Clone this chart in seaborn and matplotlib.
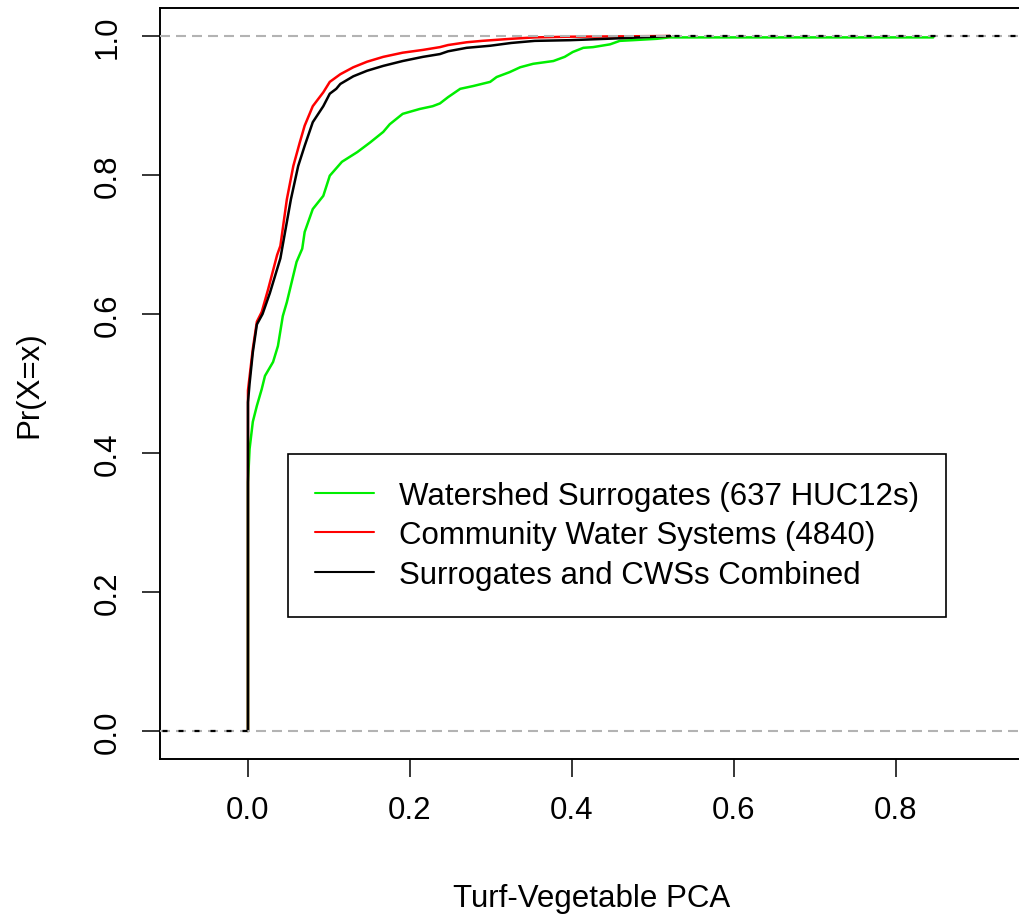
import matplotlib
matplotlib.use("Agg")
import matplotlib.pyplot as plt
import pandas as pd
import seaborn as sns
from matplotlib.lines import Line2D
from matplotlib.patches import Rectangle

# Empirical CDF knots (x value, cumulative proportion) for each group
surrogate_x = [0.000, 0.002, 0.006, 0.011, 0.017, 0.021, 0.031, 0.037, 0.043, 0.048,
               0.054, 0.060, 0.067, 0.070, 0.080, 0.093, 0.101, 0.116, 0.135, 0.151,
               0.167, 0.175, 0.191, 0.212, 0.228, 0.237, 0.247, 0.262, 0.278, 0.299,
               0.307, 0.323, 0.336, 0.352, 0.377, 0.391, 0.401, 0.414, 0.426, 0.447,
               0.459, 0.475, 0.505, 0.520, 0.846]
surrogate_F = [0.358, 0.406, 0.445, 0.468, 0.492, 0.511, 0.531, 0.554, 0.597, 0.617,
               0.646, 0.675, 0.694, 0.718, 0.751, 0.770, 0.799, 0.819, 0.833, 0.847,
               0.862, 0.873, 0.888, 0.895, 0.899, 0.903, 0.912, 0.924, 0.928, 0.934,
               0.941, 0.948, 0.955, 0.960, 0.964, 0.970, 0.977, 0.983, 0.984, 0.988,
               0.993, 0.994, 0.996, 0.998, 0.998]

cws_x = [0.000, 0.002, 0.006, 0.011, 0.017, 0.025, 0.036, 0.040, 0.048, 0.056,
         0.064, 0.070, 0.080, 0.093, 0.101, 0.114, 0.130, 0.147, 0.167, 0.191,
         0.216, 0.237, 0.247, 0.270, 0.289, 0.325, 0.354, 0.398, 0.521]
cws_F = [0.490, 0.510, 0.550, 0.589, 0.603, 0.636, 0.685, 0.698, 0.765, 0.813,
         0.847, 0.871, 0.899, 0.919, 0.934, 0.945, 0.955, 0.963, 0.970, 0.976,
         0.980, 0.984, 0.987, 0.991, 0.993, 0.996, 0.998, 0.999, 1.000]

combined_x = [0.000, 0.002, 0.006, 0.011, 0.018, 0.027, 0.040, 0.053, 0.062, 0.070,
              0.080, 0.093, 0.101, 0.109, 0.114, 0.130, 0.147, 0.167, 0.191, 0.216,
              0.237, 0.247, 0.270, 0.299, 0.325, 0.354, 0.398, 0.443, 0.484, 0.521]
combined_F = [0.473, 0.500, 0.545, 0.585, 0.600, 0.630, 0.680, 0.765, 0.813, 0.842,
              0.876, 0.899, 0.917, 0.924, 0.931, 0.942, 0.950, 0.957, 0.964, 0.970,
              0.974, 0.978, 0.983, 0.986, 0.990, 0.993, 0.994, 0.996, 0.998, 1.000]

series_labels = ["Watershed Surrogates (637 HUC12s)",
                 "Community Water Systems (4840)",
                 "Surrogates and CWSs Combined"]
series_colors = ["#00ee00", "#ff0000", "#000000"]

x_ticks = [0.0, 0.2, 0.4, 0.6, 0.8]
x_tick_labels = ["0.0", "0.2", "0.4", "0.6", "0.8"]
y_ticks = [0.0, 0.2, 0.4, 0.6, 0.8, 1.0]
y_tick_labels = ["0.0", "0.2", "0.4", "0.6", "0.8", "1.0"]

sns.set_style("white")
plt.rcParams["font.family"] = ["Liberation Sans", "DejaVu Sans"]
plt.rcParams["lines.scale_dashes"] = False
for key in ("text.color", "axes.labelcolor", "xtick.color", "ytick.color"):
    plt.rcParams[key] = "black"

FS = 22.5
W, H = 1019, 920
fig = plt.figure(figsize=(W / 100, H / 100), dpi=100)
ax = fig.add_axes([160 / W, 1 - 760 / H, (1023 - 160) / W, (760 - 9) / H])
XMIN, XMAX = -0.1086, 0.9568
YMIN, YMAX = -0.0403, 1.0403


def ecdf_frame(x, F):
    # start each curve with the jump from zero at the first knot
    return pd.DataFrame({"x": [x[0]] + list(x), "F": [0.0] + list(F)})


for xs, Fs, col in zip([surrogate_x, cws_x, combined_x],
                       [surrogate_F, cws_F, combined_F], series_colors):
    sns.lineplot(data=ecdf_frame(xs, Fs), x="x", y="F",
                 color=col, lw=1.8, estimator=None, sort=False, ax=ax)

# reference lines at 0 and 1
gray_dash = (0, (7.2, 4.32))
for yv in (0.0, 1.0):
    ax.axhline(yv, color="#b3b3b3", lw=1.5, ls=gray_dash, zorder=5)

# the combined ECDF's flat tails, seen through the dashed reference lines
black_dash = (9.72, (3.6, 7.92))
for yv, x0, x1 in ((0.0, XMIN, combined_x[0]), (1.0, combined_x[-1], XMAX + 0.1)):
    ln = ax.axhline(yv, color="black", lw=1.6, ls=black_dash, zorder=6)
    clip = Rectangle((x0, -1), x1 - x0, 3, transform=ax.transData)
    ln.set_clip_path(clip)

ax.set_xlim(XMIN, XMAX)
ax.set_ylim(YMIN, YMAX)
ax.set_xticks(x_ticks)
ax.set_xticklabels(x_tick_labels)
ax.set_yticks(y_ticks)
ax.set_yticklabels(y_tick_labels, rotation=90, va="center")
ax.tick_params(axis="both", direction="out", length=13, width=1.1,
               labelsize=FS, colors="black", bottom=True, left=True)
ax.tick_params(axis="x", pad=13)
ax.tick_params(axis="y", pad=14)
for side in ("left", "bottom", "top", "right"):
    ax.spines[side].set_visible(True)
    ax.spines[side].set_color("black")
    ax.spines[side].set_linewidth(1.4)

ax.set_xlabel("Turf-Vegetable PCA", fontsize=FS, labelpad=42, color="black")
ax.set_ylabel("Pr(X=x)", fontsize=FS, labelpad=35, color="black")

handles = [Line2D([], [], color=c, lw=1.5) for c in series_colors]
leg = ax.legend(handles, series_labels, loc="upper left",
                bbox_to_anchor=(288 / W, 1 - 455 / H), bbox_transform=fig.transFigure,
                borderaxespad=0, fontsize=FS, frameon=True, fancybox=False,
                handlelength=1.9, handletextpad=0.8, borderpad=0.85,
                labelspacing=0.31, framealpha=1)
leg.get_frame().set_edgecolor("black")
leg.get_frame().set_linewidth(1.2)
for t in leg.get_texts():
    t.set_color("black")

fig.savefig("out.png", dpi=100)
